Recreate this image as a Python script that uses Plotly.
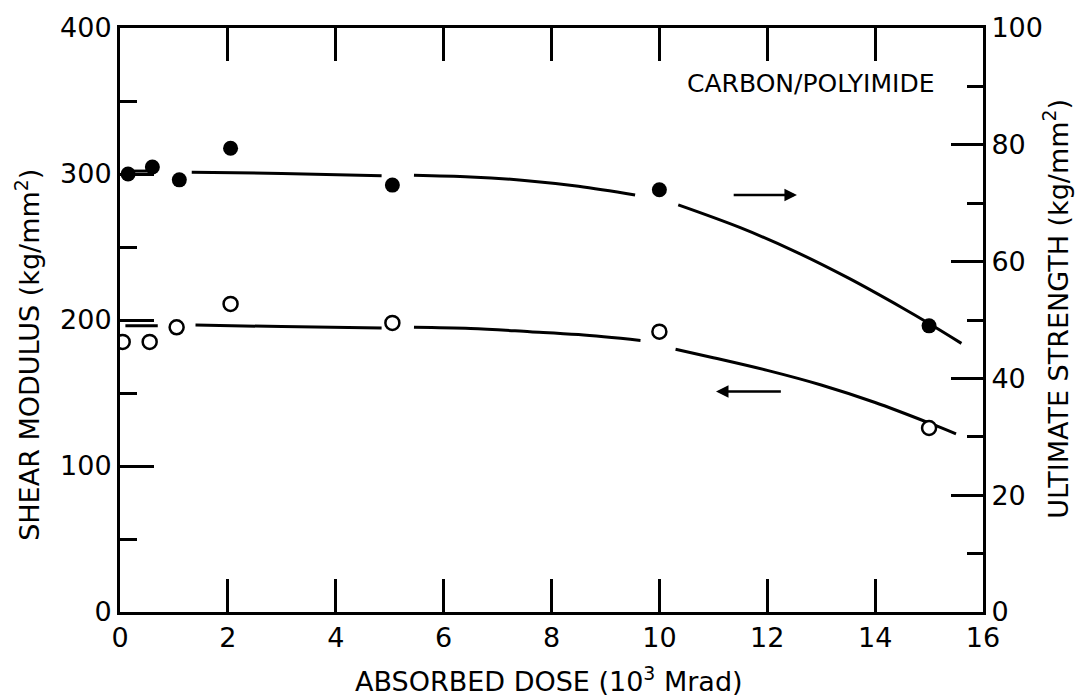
import plotly.graph_objects as go

# ---- data ----
dose_strength = [0.15, 0.6, 1.1, 2.05, 5.05, 10.0, 15.0]
ultimate_strength = [75.0, 76.2, 74.0, 79.4, 73.1, 72.3, 49.0]

dose_modulus = [0.05, 0.55, 1.05, 2.05, 5.05, 10.0, 15.0]
shear_modulus = [185, 185, 195, 211, 198, 192, 126]

# drawn (hand-fitted) curves, broken around the symbols
strength_curve_x = [0.2, 0.5, None, 1.33, 3.0, 4.85, None, 5.45, 6.5, 7.5, 8.5, 9.55, None,
                    10.35, 11.5, 12.5, 13.5, 14.5, 15.0, 15.6]
strength_curve_y = [75.5, 75.5, None, 75.3, 75.1, 74.7, None, 74.8, 74.5, 73.9, 72.9, 71.4, None,
                    69.7, 65.8, 61.8, 57.2, 52.1, 49.4, 46.0]

modulus_curve_x = [0.1, 0.7, None, 1.4, 3.0, 4.85, None, 5.45, 6.5, 7.6, 8.5, 9.65, None,
                   10.3, 11.0, 12.0, 13.0, 14.0, 15.0, 15.5]
modulus_curve_y = [196, 196, None, 196.5, 195.5, 194.5, None, 195, 194.2, 192, 190, 186, None,
                   180, 174.2, 165.5, 155.5, 143.5, 129.5, 122]

x_ticks = [0, 2, 4, 6, 8, 10, 12, 14, 16]
left_ticks = [0, 100, 200, 300, 400]
right_ticks = [0, 20, 40, 60, 80, 100]

FONT = "DejaVu Sans, Liberation Sans, sans-serif"
TICKFONT = dict(family=FONT, size=27, color="black")
TITLEFONT = dict(family=FONT, size=27, color="black")

fig = go.Figure()

fig.add_trace(go.Scatter(x=strength_curve_x, y=strength_curve_y, yaxis="y2", mode="lines",
                         line=dict(color="black", width=3, shape="spline", smoothing=1.0), connectgaps=False,
                         showlegend=False, hoverinfo="skip"))
fig.add_trace(go.Scatter(x=modulus_curve_x, y=modulus_curve_y, yaxis="y", mode="lines",
                         line=dict(color="black", width=3, shape="spline", smoothing=1.0), connectgaps=False,
                         showlegend=False, hoverinfo="skip"))

fig.add_trace(go.Scatter(x=dose_strength, y=ultimate_strength, yaxis="y2", mode="markers",
                         marker=dict(symbol="circle", size=15, color="black"),
                         name="Ultimate strength", showlegend=False))
fig.add_trace(go.Scatter(x=dose_modulus, y=shear_modulus, yaxis="y", mode="markers",
                         marker=dict(symbol="circle", size=14, color="white",
                                     line=dict(color="black", width=2.5)),
                         name="Shear modulus", showlegend=False))

fig.update_layout(
    width=1077, height=700,
    margin=dict(l=120, r=94, t=24, b=88),
    paper_bgcolor="white", plot_bgcolor="white",
    font=dict(family=FONT, color="black"),
    xaxis=dict(range=[0, 16], tickvals=x_ticks, ticktext=[str(v) for v in x_ticks],
               ticks="inside", ticklen=33, tickwidth=2.5, tickcolor="black",
               showline=True, linewidth=3, linecolor="black", mirror="ticks",
               showgrid=False, zeroline=False, tickfont=TICKFONT),
    yaxis=dict(range=[0, 400], tickvals=left_ticks, ticktext=[str(v) for v in left_ticks],
               ticks="inside", ticklen=34, tickwidth=2.5, tickcolor="black",
               minor=dict(dtick=50, ticks="inside", ticklen=17, tickwidth=2.5, tickcolor="black", showgrid=False),
               showline=True, linewidth=3, linecolor="black",
               showgrid=False, zeroline=False, tickfont=TICKFONT),
    yaxis2=dict(range=[0, 100], overlaying="y", side="right",
                tickvals=right_ticks, ticktext=[str(v) for v in right_ticks],
                ticks="inside", ticklen=32, tickwidth=2.5, tickcolor="black",
                minor=dict(dtick=10, ticks="inside", ticklen=16, tickwidth=2.5, tickcolor="black", showgrid=False),
                showline=True, linewidth=3, linecolor="black",
                showgrid=False, zeroline=False, tickfont=TICKFONT),
)

# axis titles as annotations (placed like the reference)
fig.add_annotation(text="ABSORBED DOSE (10<sup>3</sup> Mrad)", xref="paper", yref="paper",
                   x=0.497, y=-0.116, xanchor="center", yanchor="middle", showarrow=False, font=TITLEFONT)
fig.add_annotation(text="SHEAR MODULUS (kg/mm<sup>2</sup>)", xref="paper", yref="paper",
                   x=-0.108, y=0.44, xanchor="center", yanchor="middle", textangle=-90,
                   showarrow=False, font=TITLEFONT)
fig.add_annotation(text="ULTIMATE STRENGTH (kg/mm<sup>2</sup>)", xref="paper", yref="paper",
                   x=1.084, y=0.52, xanchor="center", yanchor="middle", textangle=-90,
                   showarrow=False, font=TITLEFONT)
fig.add_annotation(text="CARBON/POLYIMIDE", xref="x", yref="y", x=12.8, y=362,
                   xanchor="center", yanchor="middle", showarrow=False,
                   font=dict(family=FONT, size=25, color="black"))

# direction arrows
fig.add_annotation(x=12.55, y=71.4, ax=11.35, ay=71.4, xref="x", yref="y2", axref="x", ayref="y2",
                   showarrow=True, arrowhead=2, arrowsize=1, arrowwidth=2.5, arrowcolor="black", text="")
fig.add_annotation(x=11.05, y=151, ax=12.28, ay=151, xref="x", yref="y", axref="x", ayref="y",
                   showarrow=True, arrowhead=2, arrowsize=1, arrowwidth=2.5, arrowcolor="black", text="")

fig.write_html("out.html")
